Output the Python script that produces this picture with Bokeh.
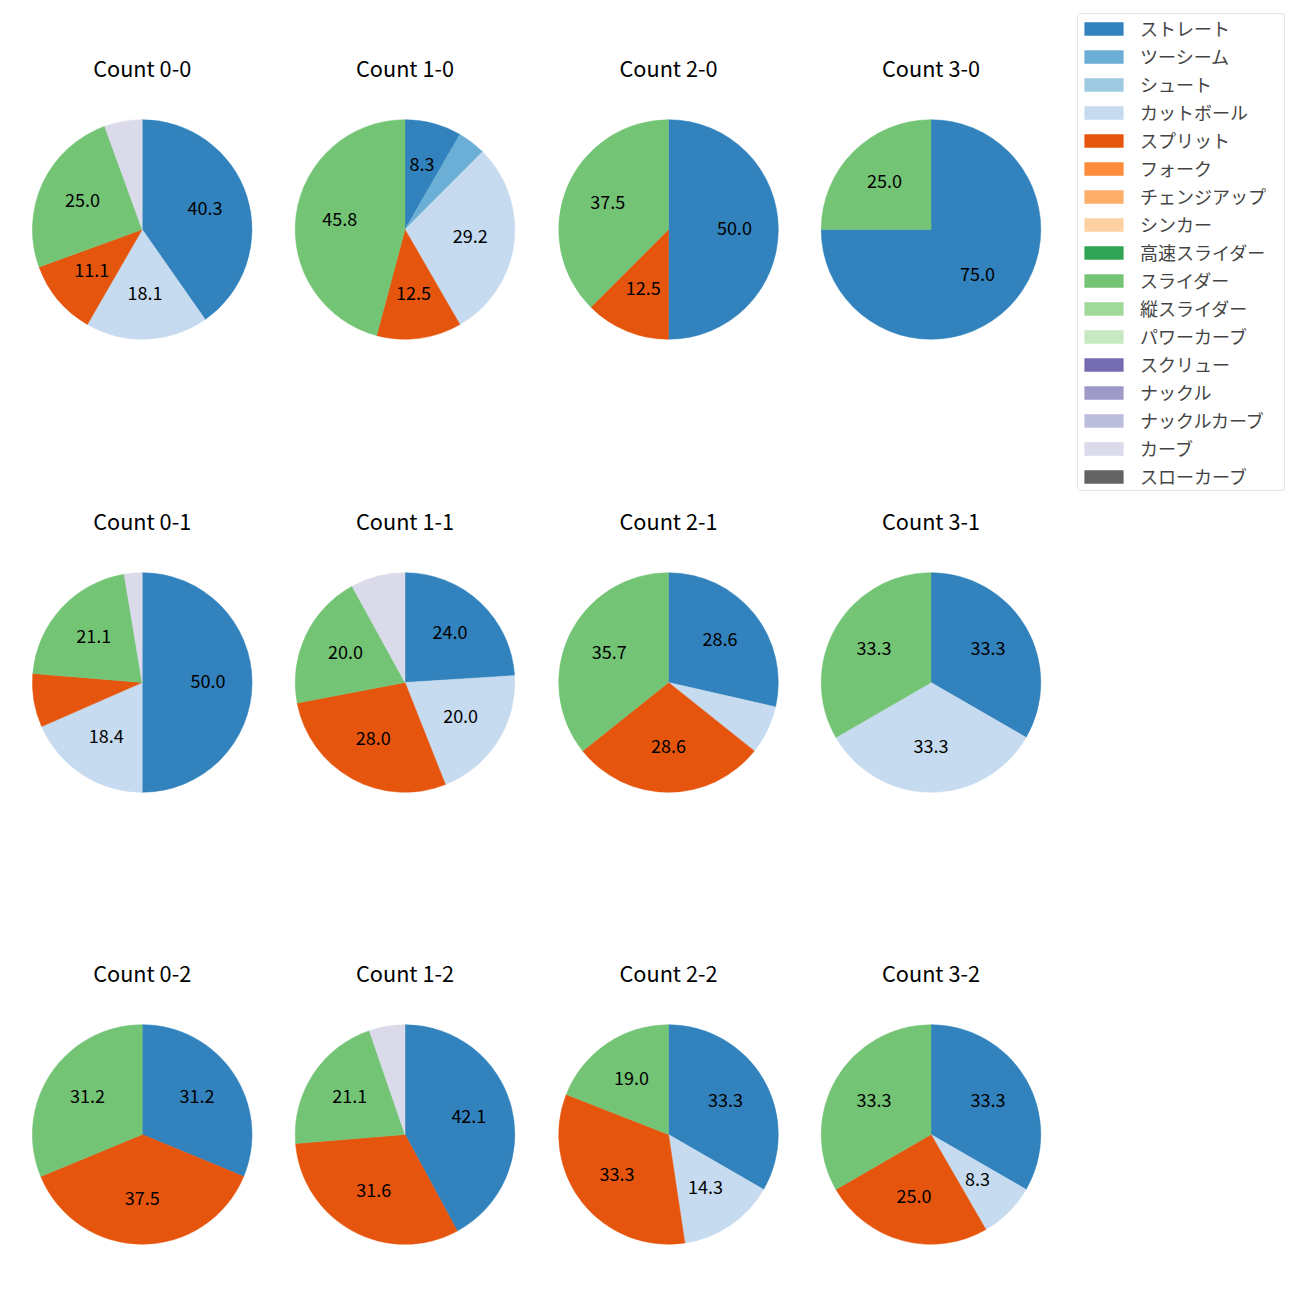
import math
from bokeh.plotting import figure
from bokeh.models import ColumnDataSource, Range1d, Legend, LegendItem
from bokeh.core.properties import value
from bokeh.embed import file_html
from bokeh.resources import INLINE

# ---------------- data ----------------
pitch_types = ["ストレート", "ツーシーム", "シュート", "カットボール", "スプリット", "フォーク",
               "チェンジアップ", "シンカー", "高速スライダー", "スライダー", "縦スライダー",
               "パワーカーブ", "スクリュー", "ナックル", "ナックルカーブ", "カーブ", "スローカーブ"]
type_colors = ["#3182bd", "#6baed6", "#9ecae1", "#c6dbef", "#e6550d", "#fd8d3c",
               "#fdae6b", "#fdd0a2", "#31a354", "#74c476", "#a1d99b", "#c7e9c0",
               "#756bb1", "#9e9ac8", "#bcbddc", "#dadaeb", "#636363"]

count_titles = ["Count 0-0", "Count 1-0", "Count 2-0", "Count 3-0",
                "Count 0-1", "Count 1-1", "Count 2-1", "Count 3-1",
                "Count 0-2", "Count 1-2", "Count 2-2", "Count 3-2"]

# pitches per type (order of pitch_types)
c_0_0 = [29, 0, 0, 13, 8, 0, 0, 0, 0, 18, 0, 0, 0, 0, 0, 4, 0]
c_1_0 = [2, 1, 0, 7, 3, 0, 0, 0, 0, 11, 0, 0, 0, 0, 0, 0, 0]
c_2_0 = [4, 0, 0, 0, 1, 0, 0, 0, 0, 3, 0, 0, 0, 0, 0, 0, 0]
c_3_0 = [3, 0, 0, 0, 0, 0, 0, 0, 0, 1, 0, 0, 0, 0, 0, 0, 0]
c_0_1 = [19, 0, 0, 7, 3, 0, 0, 0, 0, 8, 0, 0, 0, 0, 0, 1, 0]
c_1_1 = [6, 0, 0, 5, 7, 0, 0, 0, 0, 5, 0, 0, 0, 0, 0, 2, 0]
c_2_1 = [4, 0, 0, 1, 4, 0, 0, 0, 0, 5, 0, 0, 0, 0, 0, 0, 0]
c_3_1 = [1, 0, 0, 1, 0, 0, 0, 0, 0, 1, 0, 0, 0, 0, 0, 0, 0]
c_0_2 = [5, 0, 0, 0, 6, 0, 0, 0, 0, 5, 0, 0, 0, 0, 0, 0, 0]
c_1_2 = [8, 0, 0, 0, 6, 0, 0, 0, 0, 4, 0, 0, 0, 0, 0, 1, 0]
c_2_2 = [7, 0, 0, 3, 7, 0, 0, 0, 0, 4, 0, 0, 0, 0, 0, 0, 0]
c_3_2 = [4, 0, 0, 1, 3, 0, 0, 0, 0, 4, 0, 0, 0, 0, 0, 0, 0]

all_counts = [c_0_0, c_1_0, c_2_0, c_3_0,
              c_0_1, c_1_1, c_2_1, c_3_1,
              c_0_2, c_1_2, c_2_2, c_3_2]

# ---------------- layout (pixel-like data space) ----------------
S = 1292
col_x = [141.7, 404.5, 668.0, 930.5]
row_y = [229.0, 682.0, 1134.0]   # from top of window
title_dy = 160.0
text_lift = 2.0
R = 109.8
FONT = "Noto Sans CJK JP"

def Y(ref_y):
    return S - ref_y

p = figure(width=S, height=S, x_range=Range1d(0, S), y_range=Range1d(0, S),
           output_backend="svg", toolbar_location=None, min_border=0)
p.axis.visible = False
p.grid.visible = False
p.outline_line_color = None
p.background_fill_color = "white"

wx, wy, ws, we, wc = [], [], [], [], []
lx, ly, lt = [], [], []
tx, ty, tt = [], [], []
for k, counts in enumerate(all_counts):
    cx = col_x[k % 4]
    cy = Y(row_y[k // 4])
    total = float(sum(counts))
    cum = 0.0
    for i, n in enumerate(counts):
        if n == 0:
            continue
        frac = n / total
        a0 = 90.0 - (cum + frac) * 360.0
        a1 = 90.0 - cum * 360.0
        wx.append(cx); wy.append(cy)
        ws.append(math.radians(a0)); we.append(math.radians(a1))
        wc.append(type_colors[i])
        pct = frac * 100.0
        if pct > 8:
            mid = math.radians((a0 + a1) / 2.0)
            lx.append(cx + 0.6 * R * math.cos(mid))
            ly.append(cy + 0.6 * R * math.sin(mid) + text_lift)
            lt.append(f"{pct:.1f}")
        cum += frac
    tx.append(cx); ty.append(Y(row_y[k // 4] - title_dy) + text_lift); tt.append(count_titles[k])

wsrc = ColumnDataSource(dict(x=wx, y=wy, s=ws, e=we, c=wc))
p.wedge(x="x", y="y", radius=R, start_angle="s", end_angle="e", direction="anticlock",
        fill_color="c", line_color="c", line_width=0.5, source=wsrc)

p.text(x=lx, y=ly, text=lt, text_align="center", text_baseline="middle",
       text_font=value(FONT), text_font_size="18px", text_color="black")
p.text(x=tx, y=ty, text=tt, text_align="center", text_baseline="middle",
       text_font=value(FONT), text_font_size="21.7px", text_color="black")

# ---------------- legend ----------------
items = []
nan = float("nan")
for name, col in zip(pitch_types, type_colors):
    r = p.quad(left=[nan], right=[nan], top=[nan], bottom=[nan], fill_color=col, line_color=None)
    items.append(LegendItem(label=name, renderers=[r]))

legend = Legend(items=items, location=(1077, 801), orientation="vertical",
                label_text_font=FONT, label_text_font_size="18px",
                glyph_width=49, glyph_height=17, label_height=20, label_width=143,
                label_standoff=12, spacing=2, padding=1, margin=0,
                border_line_color="#cccccc", border_line_width=1,
                background_fill_color="white", background_fill_alpha=0.8)
if "border_radius" in Legend.properties():
    legend.border_radius = 4
p.add_layout(legend, "center")

open("out.html", "w").write(file_html(p, INLINE))
